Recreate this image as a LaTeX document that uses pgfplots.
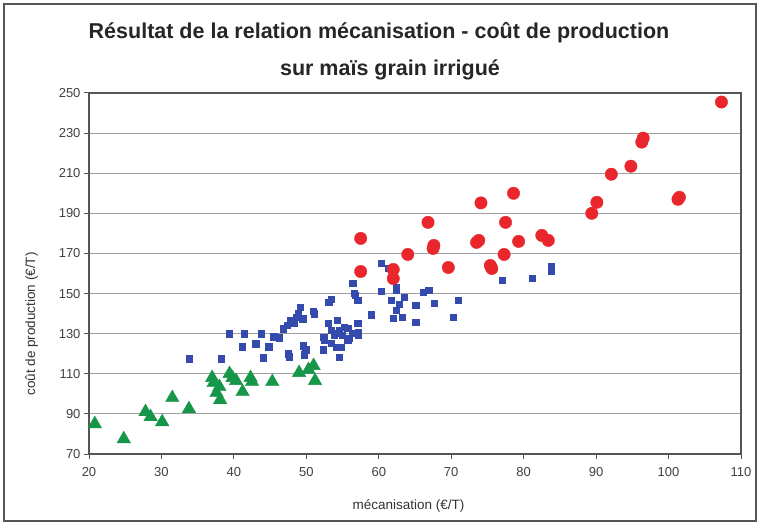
\documentclass[border=0pt]{standalone}
\usepackage{pgfplots}
\pgfplotsset{compat=1.18}
\usepackage{fontspec}
\setmainfont{Liberation Sans}
\definecolor{myred}{RGB}{232,38,44}
\definecolor{myblue}{RGB}{52,74,172}
\definecolor{mygreen}{RGB}{22,150,72}
\definecolor{axisgray}{RGB}{85,85,85}
\definecolor{gridgray}{RGB}{160,160,160}
\begin{document}
\begin{tikzpicture}[x=1pt,y=1pt]
\path[use as bounding box] (0,0) rectangle (760,525);
\draw[line width=1.5pt, color=axisgray] (4,4) rectangle (756,521);
\node[font=\bfseries\fontsize{21.5}{24}\selectfont, text=black!85] at (379,492) {Résultat de la relation mécanisation - coût de production};
\node[font=\bfseries\fontsize{21.5}{24}\selectfont, text=black!85] at (390,455) {sur maïs grain irrigué};
\begin{axis}[
  at={(89pt,71pt)}, anchor=south west,
  scale only axis, width=652pt, height=361pt,
  xmin=20, xmax=110, ymin=70, ymax=250,
  xtick={20,30,...,110}, ytick={70,90,...,250},
  ymajorgrids, grid style={gridgray, line width=0.9pt},
  axis line style={axisgray, line width=1.3pt},
  major tick style={axisgray, line width=1pt},
  major tick length=5pt,
  tick pos=left, tick align=outside,
  ticklabel style={font=\fontsize{13}{15}\selectfont, text=black!75, /pgf/number format/assume math mode=true},
  xticklabel style={yshift=-5pt},
  /pgf/number format/.cd, 1000 sep={}, /pgfplots/.cd,
  xlabel={mécanisation (€/T)},
  ylabel={coût de production (€/T)},
  label style={font=\fontsize{13.5}{15}\selectfont, text=black!80},
  xlabel style={at={(axis description cs:0.49,-0.143)}, anchor=center},
  ylabel style={at={(axis description cs:-0.088,0.36)}, anchor=center},
  clip=false,
]
% green triangles
\addplot[only marks, mark=triangle*, mark size=7.8pt, color=mygreen] coordinates {
(20.8,85) (24.8,77.5) (27.8,91) (28.5,88.5) (30.1,86) (31.5,98) (33.8,92.5)
(37.0,108) (37.2,105.5) (37.6,100.5) (38.0,103.5) (38.1,97) (39.4,110) (39.8,108)
(40.3,106.5) (41.2,101) (42.3,108) (42.5,106) (45.3,106) (49.0,110.5) (50.3,112)
(51,114) (51.2,106.5)
};
% blue squares
\addplot[only marks, mark=square*, mark size=3.1pt, color=myblue] coordinates {
(33.8,117.5) (38.3,117.5) (39.4,130) (41.2,123.5) (41.4,130) (43,125) (43.8,130)
(44,118) (44.8,123.5) (45.5,128.5) (46.3,128) (46.8,132.5) (47.4,134.3) (47.5,120)
(47.6,118.5) (47.8,136.8) (48.3,135.5) (48.6,138.3) (48.9,140.3) (49.2,143) (49.5,137.5)
(49.6,124) (49.9,122) (49.7,119.5) (51,141.3) (51.1,140) (52.3,122) (52.4,128.4)
(52.5,127) (53,135.3) (53.1,145.8) (53.4,147) (53.4,131.8) (53.4,125.4) (53.8,129.3)
(54.1,123.4) (54.3,130.3) (54.3,136.8) (54.5,118.4) (54.5,131.8) (54.8,123.4) (55,129.3)
(55.2,133.3) (55.7,132.8) (55.7,126.9) (55.9,127.9) (56.4,130.3) (56.4,155.3) (56.6,150.3)
(56.8,149.3) (57.1,146.8) (57.1,135.3) (57.2,129.3) (57.2,130.8) (59,139.5) (60.3,165.3)
(60.3,151) (61.3,162.8) (61.7,146.8) (62,161.5) (62,137.8) (62.4,153) (62.4,151.8)
(62.4,141.8) (62.8,144.8) (63.2,138.3) (63.5,148) (65.1,144) (65.1,135.8) (66.1,150.8)
(66.9,151.8) (67.6,145.3) (70.3,138.3) (71,146.8) (77,156.5) (81.2,157.8) (83.8,161)
(83.8,163.5)
};
% red circles
\addplot[only marks, mark=*, mark size=6.2pt, color=myred] coordinates {
(57.5,177.5) (57.5,161) (62,162) (62,157.5) (64,169.5) (66.8,185.5) (67.5,172.5)
(67.6,174) (69.6,163) (73.5,175.5) (73.8,176.5) (74.1,195.2) (75.4,164) (75.6,162.5)
(77.3,169.5) (77.5,185.5) (78.6,200) (79.3,176) (82.5,179) (83.4,176.5) (89.4,190)
(90.1,195.5) (92.1,209.5) (94.8,213.5) (96.3,225.5) (96.5,227.5) (101.3,197) (101.5,198)
(107.3,245.5)
};
\end{axis}
\end{tikzpicture}
\end{document}
